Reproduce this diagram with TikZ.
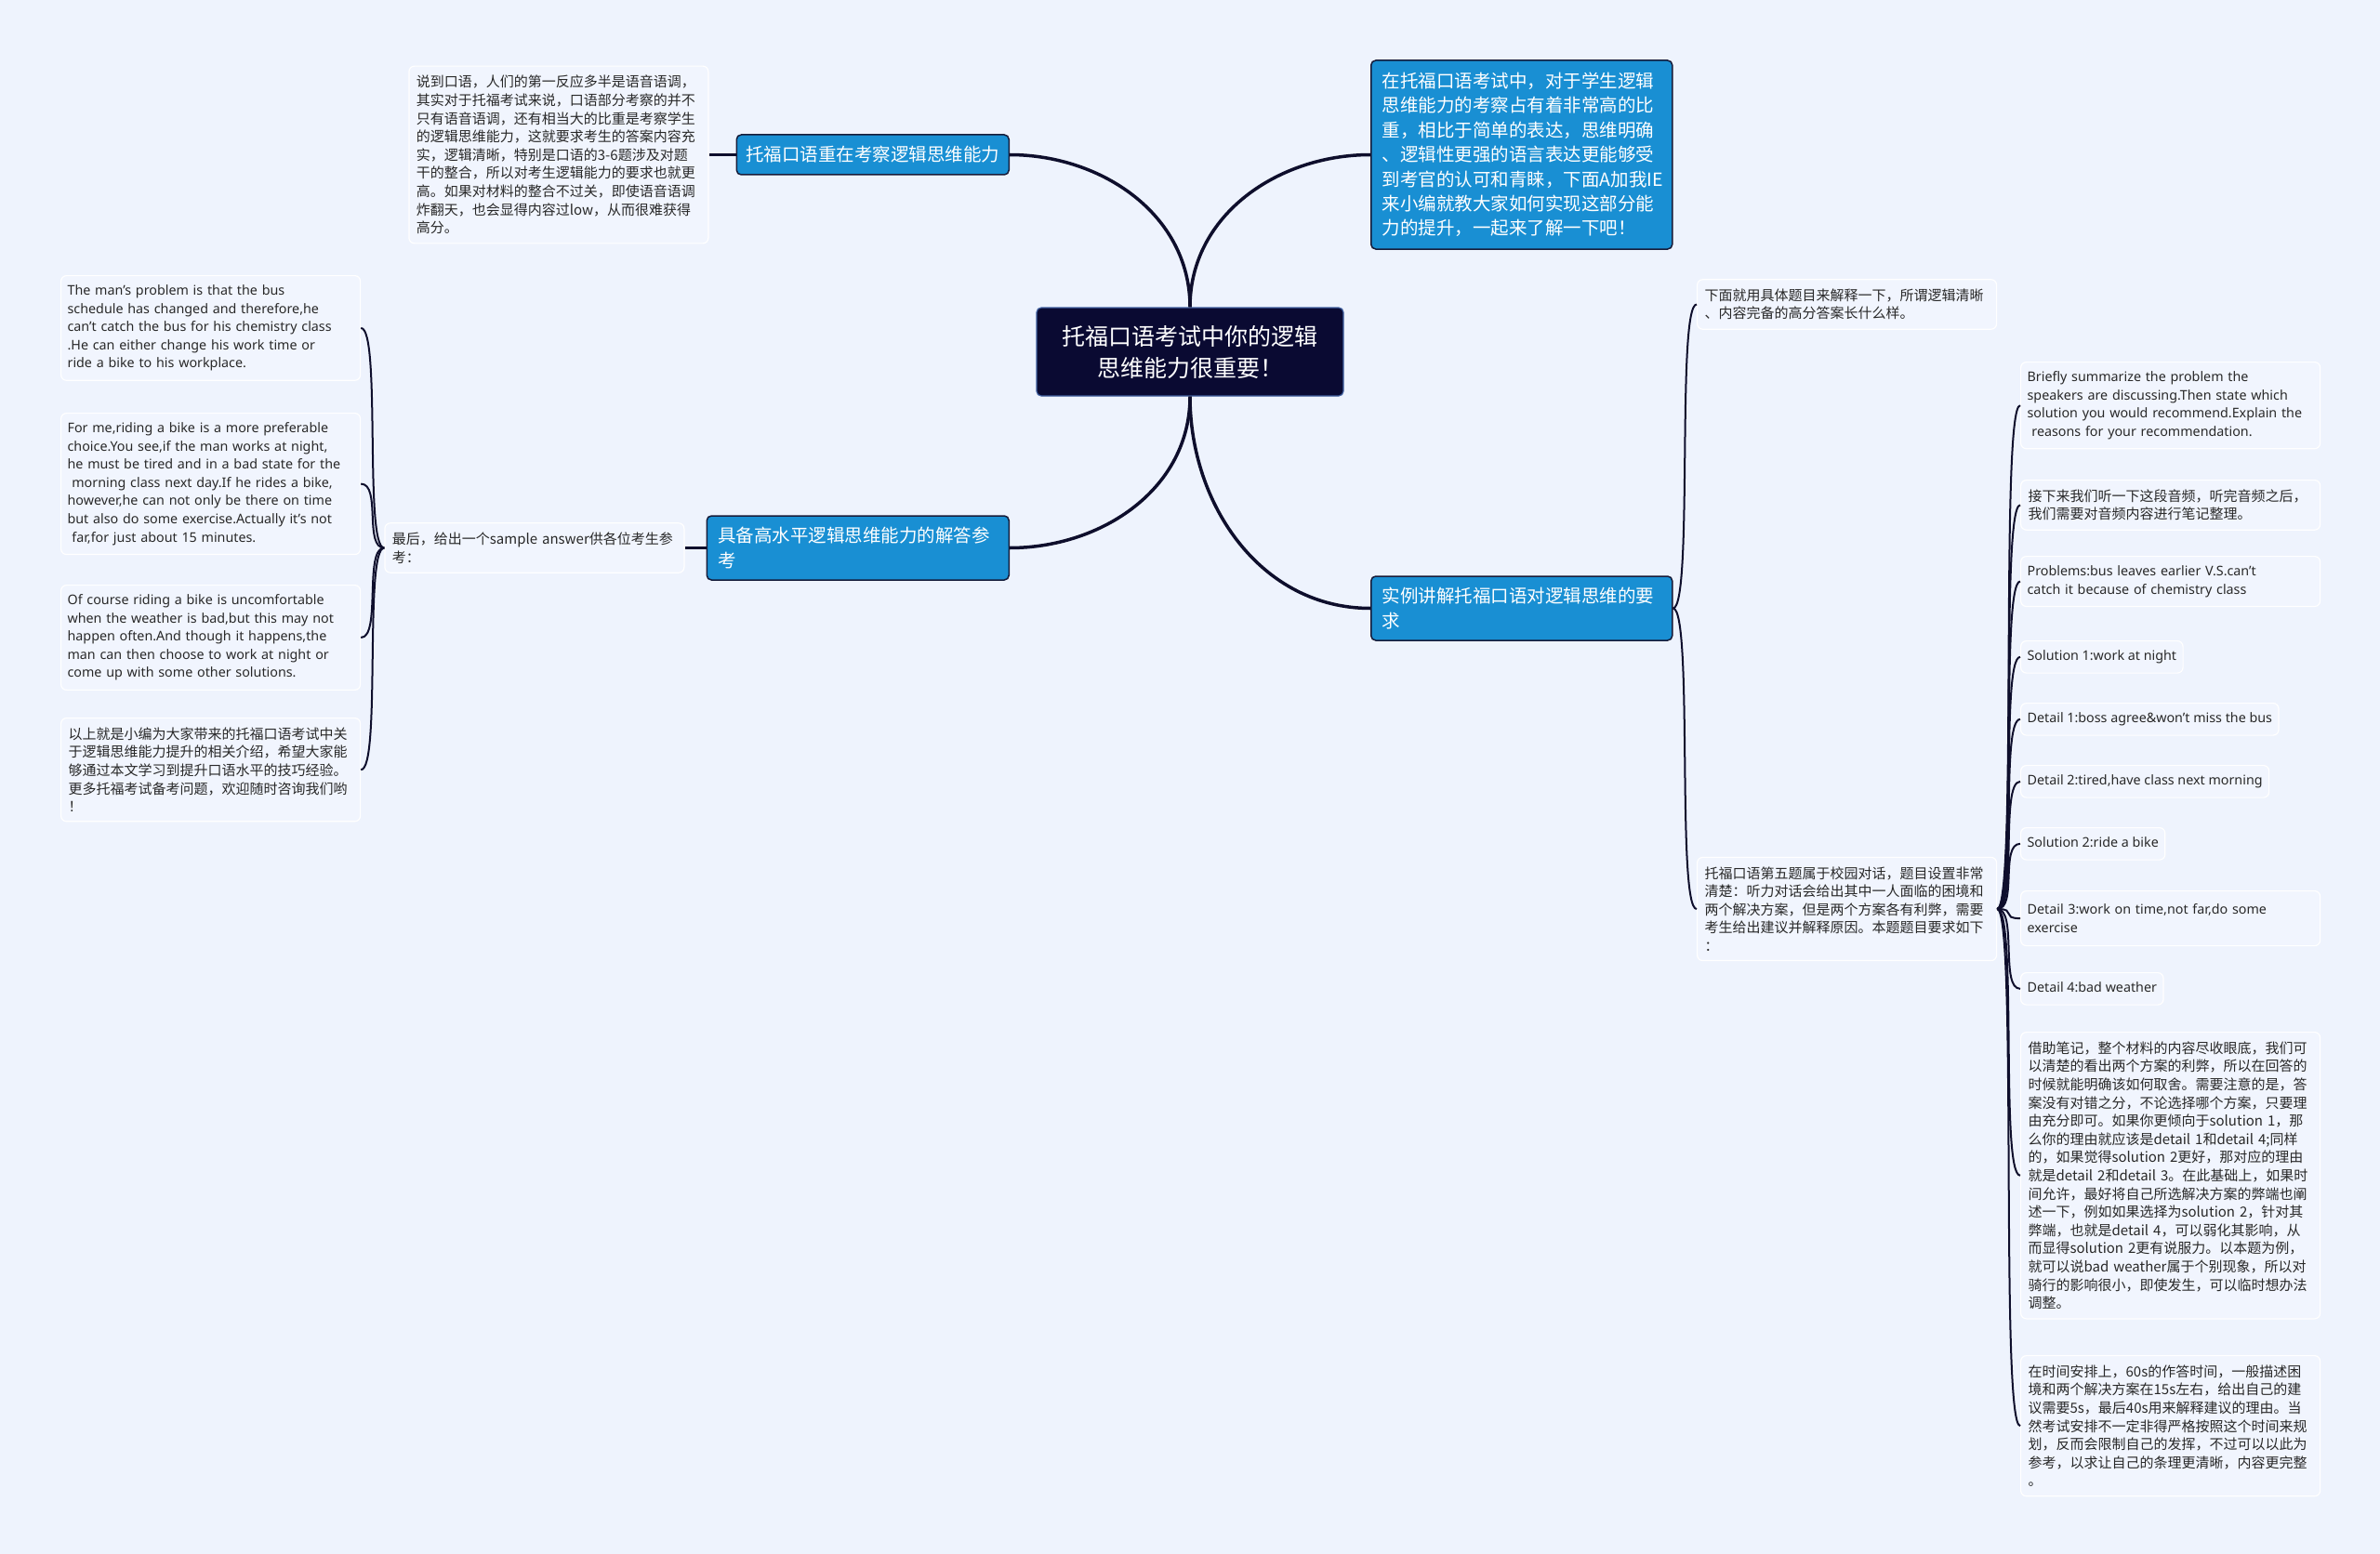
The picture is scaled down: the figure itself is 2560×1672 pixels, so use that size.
\documentclass[tikz,border=0pt]{standalone}
\usepackage{fontspec}
\usetikzlibrary{positioning}

\newfontfamily\cjk{Noto Sans CJK SC}
\newfontfamily\latn{Noto Sans}

\definecolor{pagebg}{RGB}{238,243,253}
\definecolor{rootfill}{RGB}{10,10,50}
\definecolor{rootedge}{RGB}{64,96,160}
\definecolor{topicfill}{RGB}{25,143,211}
\definecolor{topicedge}{RGB}{22,28,58}
\definecolor{notefill}{RGB}{241,245,254}
\definecolor{wire}{RGB}{14,14,44}
\definecolor{ink}{RGB}{40,40,40}

\begin{document}
\begin{tikzpicture}[
        x=1pt, y=1pt,
        root/.style={rectangle, rounded corners=5pt, draw=rootedge, line width=1.2pt, fill=rootfill, text=white, align=center, minimum width=330pt, minimum height=95pt, font=\cjk\fontsize{25}{34}\selectfont},
        topic/.style={rectangle, rounded corners=5pt, draw=topicedge, line width=1.5pt, fill=topicfill, text=white, align=left, inner xsep=12pt, inner ysep=0pt, font=\cjk\fontsize{19.5}{26.4}\selectfont},
        note/.style={rectangle, rounded corners=6pt, draw=white, line width=1.2pt, fill=notefill, text=ink, align=left, inner xsep=8pt, inner ysep=10pt, font=\cjk\fontsize{15}{19.6}\selectfont},
        eng/.style={inner xsep=7pt, font=\latn\fontsize{14.3}{19.6}\selectfont},
        tag/.style={note, eng, text height=11pt, text depth=3.5pt},
        wide/.style={text width=306pt},
        engwide/.style={note, eng, text width=308pt},
        trunk/.style={draw=wire, line width=3.5pt},
        twig/.style={draw=wire, line width=2pt},
        ]

        % Page
        \fill[pagebg] (0,0) rectangle (2560,-1672);
        \useasboundingbox (0,0) rectangle (2560,-1672);

        % Centre topic
        \node[root] (root) at (1280,-378.5) {托福口语考试中你的逻辑\\思维能力很重要！};

        % Main topics
        \node[topic, anchor=east, inner xsep=10pt, minimum height=43pt] (focus) at (1086,-166.5) {托福口语重在考察逻辑思维能力};
        \node[topic, anchor=west, text width=300pt, minimum height=203pt] (intro) at (1474,-166.5) {在托福口语考试中，对于学生逻辑\\思维能力的考察占有着非常高的比\\重，相比于简单的表达，思维明确\\、逻辑性更强的语言表达更能够受\\到考官的认可和青睐，下面A加我IE\\来小编就教大家如何实现这部分能\\力的提升，一起来了解一下吧！};
        \node[topic, anchor=east, text width=301pt, minimum height=69pt] (answer) at (1086,-589.5) {具备高水平逻辑思维能力的解答参\\考};
        \node[topic, anchor=west, text width=300pt, minimum height=69pt] (example) at (1474,-654.5) {实例讲解托福口语对逻辑思维的要\\求};

        % Notes beside the left topics
        \node[note, wide, left=29pt of focus] (focusnote) {说到口语，人们的第一反应多半是语音语调，\\其实对于托福考试来说，口语部分考察的并不\\只有语音语调，还有相当大的比重是考察学生\\的逻辑思维能力，这就要求考生的答案内容充\\实，逻辑清晰，特别是口语的3-6题涉及对题\\干的整合，所以对考生逻辑能力的要求也就更\\高。如果对材料的整合不过关，即使语音语调\\炸翻天，也会显得内容过low，从而很难获得\\高分。};
        \node[note, wide, left=23pt of answer] (lastly) {最后，给出一个sample answer供各位考生参\\考：};

        % Sample answer (left column)
        \node[engwide, anchor=north west] (caseA) at (65,-296) {The man’s problem is that the bus\\schedule has changed and therefore,he\\can’t catch the bus for his chemistry class\\.He can either change his work time or\\ride a bike to his workplace.};
        \node[engwide, anchor=north west] (caseB) at (65,-444) {For me,riding a bike is a more preferable\\choice.You see,if the man works at night,\\he must be tired and in a bad state for the\\\ morning class next day.If he rides a bike,\\however,he can not only be there on time\\but also do some exercise.Actually it’s not\\\ far,for just about 15 minutes.};
        \node[engwide, anchor=north west] (caseC) at (65,-629) {Of course riding a bike is uncomfortable\\when the weather is bad,but this may not\\happen often.And though it happens,the\\man can then choose to work at night or\\come up with some other solutions.};
        \node[note, wide, anchor=north west] (caseD) at (65,-772) {以上就是小编为大家带来的托福口语考试中关\\于逻辑思维能力提升的相关介绍，希望大家能\\够通过本文学习到提升口语水平的技巧经验。\\更多托福考试备考问题，欢迎随时咨询我们哟\\！};

        % Worked example (right side)
        \node[note, wide, anchor=west] (howto) at (1825,-327.5) {下面就用具体题目来解释一下，所谓逻辑清晰\\、内容完备的高分答案长什么样。};
        \node[note, wide, anchor=west] (task) at (1825,-978) {托福口语第五题属于校园对话，题目设置非常\\清楚：听力对话会给出其中一人面临的困境和\\两个解决方案，但是两个方案各有利弊，需要\\考生给出建议并解释原因。本题题目要求如下\\：};

        \node[engwide, anchor=north west] (brief) at (2173,-389) {Briefly summarize the problem the\\speakers are discussing.Then state which\\solution you would recommend.Explain the\\\ reasons for your recommendation.};
        \node[note, wide, anchor=north west] (listen) at (2173,-516) {接下来我们听一下这段音频，听完音频之后，\\我们需要对音频内容进行笔记整理。};
        \node[engwide, anchor=north west] (problem) at (2173,-598) {Problems:bus leaves earlier V.S.can’t\\catch it because of chemistry class};
        \node[tag, anchor=north west] (solA) at (2173,-689) {Solution 1:work at night};
        \node[tag, anchor=north west] (detA) at (2173,-756) {Detail 1:boss agree\&won’t miss the bus};
        \node[tag, anchor=north west] (detB) at (2173,-823) {Detail 2:tired,have class next morning};
        \node[tag, anchor=north west] (solB) at (2173,-890) {Solution 2:ride a bike};
        \node[engwide, anchor=north west, minimum height=59pt] (detC) at (2173,-958) {Detail 3:work on time,not far,do some\\exercise};
        \node[tag, anchor=north west] (detD) at (2173,-1046) {Detail 4:bad weather};
        \node[note, wide, anchor=north west] (notes) at (2173,-1110) {借助笔记，整个材料的内容尽收眼底，我们可\\以清楚的看出两个方案的利弊，所以在回答的\\时候就能明确该如何取舍。需要注意的是，答\\案没有对错之分，不论选择哪个方案，只要理\\由充分即可。如果你更倾向于solution 1，那\\么你的理由就应该是detail 1和detail 4;同样\\的，如果觉得solution 2更好，那对应的理由\\就是detail 2和detail 3。在此基础上，如果时\\间允许，最好将自己所选解决方案的弊端也阐\\述一下，例如如果选择为solution 2，针对其\\弊端，也就是detail 4，可以弱化其影响，从\\而显得solution 2更有说服力。以本题为例，\\就可以说bad weather属于个别现象，所以对\\骑行的影响很小，即使发生，可以临时想办法\\调整。};
        \node[note, wide, anchor=north west] (timing) at (2173,-1458) {在时间安排上，60s的作答时间，一般描述困\\境和两个解决方案在15s左右，给出自己的建\\议需要5s，最后40s用来解释建议的理由。当\\然考试安排不一定非得严格按照这个时间来规\\划，反而会限制自己的发挥，不过可以以此为\\参考，以求让自己的条理更清晰，内容更完整\\。};

        % Branches from the centre
        \draw[trunk] (root.north) to[out=90, in=0] (focus.east);
        \draw[trunk] (root.north) to[out=90, in=180] (intro.west);
        \draw[trunk] (root.south) to[out=-90, in=0] (answer.east);
        \draw[trunk] (root.south) to[out=-90, in=180] (example.west);
        \draw[trunk] (focus) -- (focusnote);
        \draw[trunk] (answer) -- (lastly);

        % Left leaves
        \draw[twig] (lastly.west) .. controls +(-22,0) and +(22,0) .. (caseA.east);
        \draw[twig] (lastly.west) .. controls +(-22,0) and +(22,0) .. (caseB.east);
        \draw[twig] (lastly.west) .. controls +(-22,0) and +(22,0) .. (caseC.east);
        \draw[twig] (lastly.west) .. controls +(-22,0) and +(22,0) .. (caseD.east);

        % Right leaves
        \draw[twig] (example.east) .. controls +(22,0) and +(-22,0) .. (howto.west);
        \draw[twig] (example.east) .. controls +(22,0) and +(-22,0) .. (task.west);
        \draw[twig] (task.east) .. controls +(22,0) and +(-22,0) .. (brief.west);
        \draw[twig] (task.east) .. controls +(22,0) and +(-22,0) .. (listen.west);
        \draw[twig] (task.east) .. controls +(22,0) and +(-22,0) .. (problem.west);
        \draw[twig] (task.east) .. controls +(22,0) and +(-22,0) .. (solA.west);
        \draw[twig] (task.east) .. controls +(22,0) and +(-22,0) .. (detA.west);
        \draw[twig] (task.east) .. controls +(22,0) and +(-22,0) .. (detB.west);
        \draw[twig] (task.east) .. controls +(22,0) and +(-22,0) .. (solB.west);
        \draw[twig] (task.east) .. controls +(22,0) and +(-22,0) .. (detC.west);
        \draw[twig] (task.east) .. controls +(22,0) and +(-22,0) .. (detD.west);
        \draw[twig] (task.east) .. controls +(22,0) and +(-22,0) .. (notes.west);
        \draw[twig] (task.east) .. controls +(22,0) and +(-22,0) .. (timing.west);

    \end{tikzpicture}
\end{document}
